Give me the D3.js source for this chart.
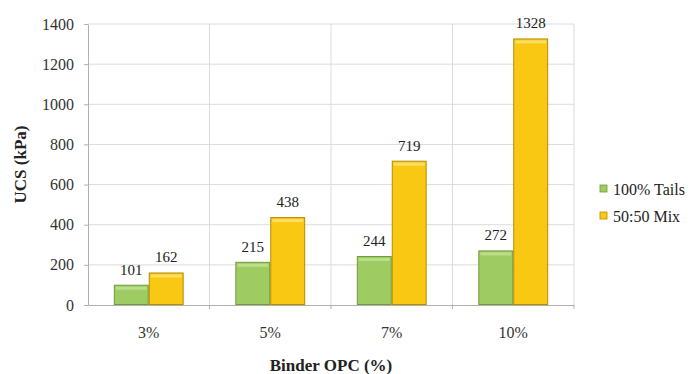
<!DOCTYPE html>
<html>
<head>
<meta charset="utf-8">
<script src="https://cdn.jsdelivr.net/npm/d3@7"></script>
<style>
  html, body { margin: 0; padding: 0; background: #fff; }
  svg { display: block; }
  svg text { font-family: "Liberation Serif", "Times New Roman", serif; }
</style>
</head>
<body>
<svg id="chart" width="692" height="374"></svg>
<script>
// Binder content categories and UCS results (kPa) per mix
const categories = ["3%", "5%", "7%", "10%"];
const seriesNames = ["100% Tails", "50:50 Mix"];
const tailsValues = [101, 215, 244, 272];
const mixValues = [162, 438, 719, 1328];
const yTicks = [0, 200, 400, 600, 800, 1000, 1200, 1400];

const colors = {
  "100% Tails": { fill: "#9fcc62", light: "#c2e394", edge: "#6f9a3c" },
  "50:50 Mix": { fill: "#f8c812", light: "#fde27a", edge: "#b58c00" }
};

const svg = d3.select("#chart");
const margin = { left: 88, right: 118, top: 24, bottom: 69 };
const W = 692, H = 374;
const plotL = margin.left, plotR = W - margin.right;
const plotT = margin.top, plotB = H - margin.bottom;

const serif = "'Liberation Serif', 'Times New Roman', serif";

const x0 = d3.scaleBand().domain(categories).range([plotL, plotR]).padding(0);
const x1 = d3.scaleBand().domain(seriesNames).range([0, x0.bandwidth()])
  .paddingInner(0).paddingOuter(0.74);
const y = d3.scaleLinear().domain([0, 1400]).range([plotB, plotT]);

const rows = categories.map((c, i) => ({
  cat: c,
  vals: [
    { name: seriesNames[0], value: tailsValues[i] },
    { name: seriesNames[1], value: mixValues[i] }
  ]
}));

// horizontal gridlines
svg.append("g")
  .selectAll("line")
  .data(yTicks.filter(t => t > 0))
  .join("line")
  .attr("x1", plotL).attr("x2", plotR)
  .attr("y1", d => y(d)).attr("y2", d => y(d))
  .attr("stroke", "#dcdcdc").attr("stroke-width", 1);

// vertical gridlines at category boundaries
svg.append("g")
  .selectAll("line")
  .data(categories)
  .join("line")
  .attr("x1", d => x0(d) + x0.bandwidth()).attr("x2", d => x0(d) + x0.bandwidth())
  .attr("y1", plotT).attr("y2", plotB)
  .attr("stroke", "#dcdcdc").attr("stroke-width", 1);

// y axis
const yAxis = svg.append("g")
  .attr("transform", `translate(${plotL},0)`)
  .call(d3.axisLeft(y).tickValues(yTicks).tickFormat(d3.format("d"))
    .tickSize(4).tickPadding(10).tickSizeOuter(0));
yAxis.attr("font-family", null);
yAxis.select(".domain").attr("stroke", "#b0b0b0");
yAxis.selectAll(".tick line").attr("stroke", "#b0b0b0");
yAxis.selectAll(".tick text")
  .style("font-family", serif).style("font-size", "16px")
  .attr("fill", "#333");

// x axis with ticks at category boundaries
const xAxis = svg.append("g")
  .attr("transform", `translate(0,${plotB})`)
  .call(d3.axisBottom(x0).tickSize(0).tickPadding(22).tickSizeOuter(0));
xAxis.attr("font-family", null);
xAxis.select(".domain").attr("stroke", "#b0b0b0");
xAxis.selectAll(".tick text")
  .style("font-family", serif).style("font-size", "16px")
  .attr("fill", "#333");
svg.append("g")
  .selectAll("line")
  .data(categories)
  .join("line")
  .attr("x1", d => x0(d) + x0.bandwidth()).attr("x2", d => x0(d) + x0.bandwidth())
  .attr("y1", plotB).attr("y2", plotB + 4)
  .attr("stroke", "#b0b0b0");

// bars
const groups = svg.append("g")
  .selectAll("g")
  .data(rows)
  .join("g")
  .attr("transform", d => `translate(${x0(d.cat)},0)`);

const bar = groups.selectAll("g.bar")
  .data(d => d.vals)
  .join("g").attr("class", "bar");

bar.append("rect")
  .attr("x", d => x1(d.name) + 0.5)
  .attr("y", d => y(d.value) + 0.5)
  .attr("width", x1.bandwidth() - 1)
  .attr("height", d => y(0) - y(d.value) - 1)
  .attr("fill", d => colors[d.name].fill)
  .attr("stroke", d => colors[d.name].edge)
  .attr("stroke-width", 1);

// bevel highlight along the top edge
bar.append("rect")
  .attr("x", d => x1(d.name) + 2)
  .attr("y", d => y(d.value) + 2)
  .attr("width", x1.bandwidth() - 4)
  .attr("height", 3)
  .attr("fill", d => colors[d.name].light)
  .attr("opacity", 0.8);

// value labels
bar.append("text")
  .attr("x", d => x1(d.name) + x1.bandwidth() / 2)
  .attr("y", d => y(d.value) - 10)
  .attr("text-anchor", "middle")
  .style("font-family", serif).style("font-size", "15px")
  .attr("fill", "#222")
  .text(d => d.value);

// axis titles
svg.append("text")
  .attr("transform", `translate(26,${(plotT + plotB) / 2}) rotate(-90)`)
  .attr("text-anchor", "middle")
  .style("font-family", serif).style("font-size", "17px").style("font-weight", "bold")
  .attr("fill", "#222")
  .text("UCS (kPa)");

svg.append("text")
  .attr("x", (plotL + plotR) / 2)
  .attr("y", 371)
  .attr("text-anchor", "middle")
  .style("font-family", serif).style("font-size", "17px").style("font-weight", "bold")
  .attr("fill", "#222")
  .text("Binder OPC (%)");

// legend
const legend = svg.append("g").attr("transform", "translate(600,184)");
const li = legend.selectAll("g")
  .data(seriesNames)
  .join("g")
  .attr("transform", (d, i) => `translate(0,${i * 27})`);
li.append("rect")
  .attr("x", 0).attr("y", 1).attr("width", 7).attr("height", 7)
  .attr("fill", d => colors[d].fill)
  .attr("stroke", d => colors[d].edge).attr("stroke-width", 0.8);
li.append("text")
  .attr("x", 13).attr("y", 11)
  .style("font-family", serif).style("font-size", "16px")
  .attr("fill", "#222")
  .text(d => d);
</script>
</body>
</html>
